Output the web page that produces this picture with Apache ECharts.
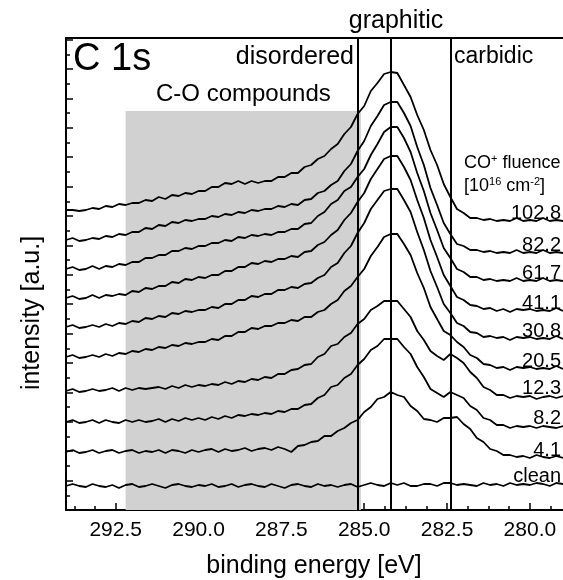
<!DOCTYPE html>
<html><head><meta charset="utf-8">
<script src="https://cdn.jsdelivr.net/npm/echarts@6/dist/echarts.min.js"></script>
<style>html,body{margin:0;padding:0;background:#fff}#c{width:563px;height:580px}</style>
</head><body><div id="c"></div>
<script>
// binding energy grid [eV]
const energy = [294,293.8,293.6,293.4,293.2,293,292.8,292.6,292.4,292.2,
292,291.8,291.6,291.4,291.2,291,290.8,290.6,290.4,290.2,
290,289.8,289.6,289.4,289.2,289,288.8,288.6,288.4,288.2,
288,287.8,287.6,287.4,287.2,287,286.8,286.6,286.4,286.2,
286,285.8,285.6,285.4,285.2,285,284.8,284.6,284.4,284.2,
284,283.8,283.6,283.4,283.2,283,282.8,282.6,282.4,282.2,
282,281.8,281.6,281.4,281.2,281,280.8,280.6,280.4,280.2,
280,279.8,279.6,279.4,279.2,279];

const fluenceLabels = ['clean','4.1','8.2','12.3','20.5','30.8','41.1','61.7','82.2','102.8'];

// intensities [a.u.], offset-stacked spectra
const sClean = [24,26,24,23,26,24,23,25,22,25, 26,23,24,26,24,22,25,26,24,23, 25,24,26,23,24,26,23,25,26,24,
 23,26,24,22,25,26,24,23,26,24, 25,23,25,26,23,25,27,25,24,27, 25,27,24,24,26,26,24,27,27,25,
 26,25,24,27,25,26,24,27,25,26, 25,27,26,24,27,26];
const s4_1 = [58,60,57,58,60,57,59,60,57,59, 60,57,59,58,60,57,60,59,57,60, 58,60,61,58,61,59,60,62,59,61,
 62,60,63,61,58,64,65,68,69,74, 74,79,82,87,90,98,103,111,113,118, 115,113,104,99,91,90,88,92,92,93,
 86,81,72,68,61,59,55,55,53,54, 52,55,53,52,54,52];
const s8_2 = [88,90,87,88,90,87,90,88,87,90, 88,90,88,89,91,88,91,89,92,90, 92,90,93,91,94,92,95,94,96,95,
 97,96,99,98,101,101,105,106,112,115, 123,125,132,136,145,151,160,164,171,171, 171,163,156,143,133,121,117,113,118,115,
 112,104,100,92,90,85,85,82,84,83, 84,82,84,83,82,84];
const s12_3 = [119,121,118,119,121,119,120,122,119,122, 120,122,121,122,123,121,124,122,125,123, 125,124,126,125,128,126,129,128,131,130,
 133,132,136,136,140,141,145,146,153,156, 164,166,173,177,186,191,200,204,209,209, 209,201,193,179,170,159,154,150,156,152,
 147,138,132,123,120,115,115,112,114,113, 114,111,113,114,112,114];
const s20_5 = [153,155,152,153,155,153,156,154,157,156, 159,158,161,160,163,162,165,164,167,166, 168,168,171,170,174,174,178,178,182,181,
 184,184,187,187,190,189,193,193,198,200, 206,210,219,224,233,241,254,263,273,276, 276,266,255,237,222,203,191,179,175,168,
 163,155,152,146,145,142,143,140,143,142, 143,141,142,141,144,141];
const s30_8 = [183,185,182,183,185,183,186,184,187,186, 189,188,192,191,194,193,197,196,199,198, 200,200,203,202,206,206,210,210,214,213,
 216,216,220,220,223,222,226,227,232,235, 243,247,257,264,277,287,301,310,319,321, 321,310,298,278,260,239,223,206,197,187,
 184,178,177,173,174,172,173,170,173,172, 173,171,172,171,174,171];
const s41_1 = [212,214,211,212,215,212,215,214,216,215, 219,218,222,221,224,224,228,227,231,230, 233,232,235,235,239,239,243,243,247,246,
 249,248,251,251,254,253,258,259,265,268, 275,280,290,297,308,317,331,341,351,354, 354,343,330,310,292,270,253,235,224,213,
 210,205,204,201,202,199,201,198,201,200, 201,199,200,199,202,199];
const s61_7 = [241,243,240,241,244,241,244,243,246,245, 248,248,252,252,255,255,259,259,262,261, 264,264,267,267,270,269,273,272,275,274,
 276,275,278,278,281,281,286,287,294,298, 306,310,319,323,333,341,355,366,378,383, 383,372,358,337,319,297,280,262,252,241,
 238,233,233,230,231,229,230,229,232,229, 230,229,232,229,230,229];
const s82_2 = [270,272,269,270,272,271,274,273,276,275, 278,278,282,281,285,284,288,287,290,289, 291,291,294,293,296,295,298,297,300,299,
 301,301,304,303,306,305,310,311,317,319, 325,329,339,346,359,369,384,394,405,408, 408,397,384,363,345,322,305,287,276,266,
 264,260,260,258,259,257,258,257,260,257, 258,257,260,257,258,257];
const s102_8 = [300,300,299,300,302,301,304,303,306,305, 307,307,310,309,313,311,315,314,317,316, 319,319,323,323,327,326,329,326,329,327,
 329,329,333,333,337,337,343,345,351,354, 361,366,376,383,396,404,419,427,436,438, 437,425,413,395,380,360,345,326,313,301,
 297,292,292,290,291,289,290,289,292,289, 290,289,292,289,290,289];

const spectra = [sClean,s4_1,s8_2,s12_3,s20_5,s30_8,s41_1,s61_7,s82_2,s102_8];

const majorTicks = [292.5,290.0,287.5,285.0,282.5,280.0];
const minorTicks = [293.75,293.125,291.875,291.25,290.625,289.375,288.75,288.125,286.875,286.25,285.625,
  284.375,283.75,283.125,281.875,281.25,280.625,279.375];
const componentLines = [285.2, 284.2, 282.4]; // disordered | graphitic | carbidic
const coRegion = [292.2, 285.1, 399];           // shaded C-O compound range and its top

const FONT = '"Liberation Sans", Arial, Helvetica, sans-serif';
const chart = echarts.init(document.getElementById('c'), null, {renderer: 'canvas'});

const lineSeries = spectra.map((vals, k) => ({
  type: 'line',
  name: fluenceLabels[k],
  data: energy.map((e, i) => [e, vals[i]]),
  showSymbol: false,
  symbol: 'none',
  smooth: false,
  z: 3,
  lineStyle: {color: '#000', width: 1.8},
  emphasis: {disabled: true},
  markPoint: {
    symbol: 'circle', symbolSize: 0, silent: true,
    data: [{coord: [279.06, vals[vals.length - 1]]}],
    label: {
      show: true, position: 'inside', formatter: fluenceLabels[k],
      align: 'right', verticalAlign: 'bottom', offset: [0, 2],
      fontFamily: FONT, fontSize: 20, color: '#000'
    }
  }
}));

const axisX = (extra) => Object.assign({
  type: 'value', min: 279, max: 294, inverse: true, gridIndex: 0,
  splitLine: {show: false}
}, extra);

chart.setOption({
  animation: false,
  backgroundColor: '#fff',
  grid: {left: 66, right: 0, top: 38, bottom: 70, containLabel: false},
  xAxis: [
    axisX({position: 'bottom',
      axisLine: {show: true, lineStyle: {color: '#000', width: 2}},
      axisTick: {show: true, inside: true, length: 7, customValues: majorTicks, lineStyle: {color: '#000', width: 1.5}},
      axisLabel: {show: true, customValues: majorTicks, margin: 10, fontFamily: FONT, fontSize: 21, color: '#000',
        formatter: v => v.toFixed(1)}}),
    axisX({position: 'top',
      axisLine: {show: true, lineStyle: {color: '#000', width: 2}},
      axisTick: {show: false}, axisLabel: {show: false}}),
    axisX({position: 'bottom',
      axisLine: {show: false},
      axisTick: {show: true, inside: true, length: 4, customValues: minorTicks, lineStyle: {color: '#000', width: 1.5}},
      axisLabel: {show: false}})
  ],
  yAxis: {
    type: 'value', min: 0, max: 472, interval: 29.4,
    axisLine: {show: true, lineStyle: {color: '#000', width: 2}},
    axisTick: {show: true, inside: true, length: 7, lineStyle: {color: '#000', width: 1.5}},
    minorTick: {show: true, splitNumber: 2, length: 4, lineStyle: {color: '#000', width: 1.5}},
    axisLabel: {show: false}, splitLine: {show: false}
  },
  series: [{
    type: 'line', data: [], z: 1, silent: true,
    markArea: {
      silent: true,
      itemStyle: {color: '#d1d1d1'},
      data: [[{coord: [coRegion[0], 0]}, {coord: [coRegion[1], coRegion[2]]}]]
    },
    markLine: {
      silent: true, symbol: 'none', label: {show: false},
      lineStyle: {color: '#000', width: 2, type: 'solid'},
      data: componentLines.map(x => ({xAxis: x}))
    }
  }].concat(lineSeries),
  graphic: [
    {type: 'text', x: 73, y: 60, style: {text: 'C 1s', fontFamily: FONT, fontSize: 38, fill: '#000', textAlign: 'left', textVerticalAlign: 'middle'}},
    {type: 'text', x: 354, y: 57, style: {text: 'disordered', fontFamily: FONT, fontSize: 25, fill: '#000', textAlign: 'right', textVerticalAlign: 'middle'}},
    {type: 'text', x: 396, y: 21, style: {text: 'graphitic', fontFamily: FONT, fontSize: 25, fill: '#000', textAlign: 'center', textVerticalAlign: 'middle'}},
    {type: 'text', x: 454, y: 57, style: {text: 'carbidic', fontFamily: FONT, fontSize: 23, fill: '#000', textAlign: 'left', textVerticalAlign: 'middle'}},
    {type: 'text', x: 156, y: 94, style: {text: 'C-O compounds', fontFamily: FONT, fontSize: 24, fill: '#000', textAlign: 'left', textVerticalAlign: 'middle'}},
    {type: 'text', x: 464, y: 163, style: {
      text: '{a|CO}{s|+}{a| fluence}', textAlign: 'left', textVerticalAlign: 'middle',
      rich: {a: {fontFamily: FONT, fontSize: 18, lineHeight: 20, fill: '#000'},
             s: {fontFamily: FONT, fontSize: 11, lineHeight: 11, verticalAlign: 'top', fill: '#000'}}}},
    {type: 'text', x: 464, y: 186, style: {
      text: '{a|[10}{s|16}{a| cm}{s|-2}{a|]}', textAlign: 'left', textVerticalAlign: 'middle',
      rich: {a: {fontFamily: FONT, fontSize: 18, lineHeight: 20, fill: '#000'},
             s: {fontFamily: FONT, fontSize: 11, lineHeight: 11, verticalAlign: 'top', fill: '#000'}}}},
    {type: 'text', x: 32, y: 313, rotation: Math.PI / 2, style: {text: 'intensity [a.u.]', fontFamily: FONT, fontSize: 25, fill: '#000', textAlign: 'center', textVerticalAlign: 'middle'}},
    {type: 'text', x: 314, y: 566, style: {text: 'binding energy [eV]', fontFamily: FONT, fontSize: 25, fill: '#000', textAlign: 'center', textVerticalAlign: 'middle'}}
  ]
});
</script>
</body></html>
